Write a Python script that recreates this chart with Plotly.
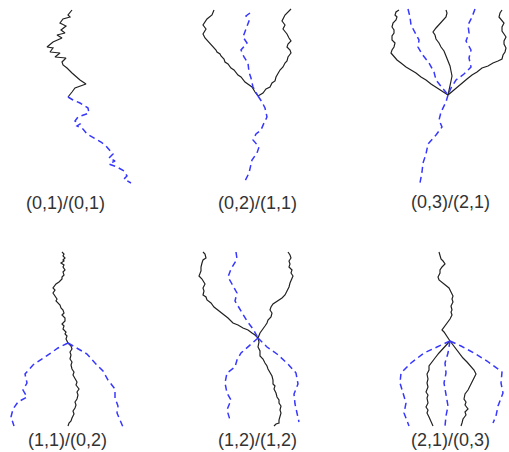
import plotly.graph_objects as go

# ---------------- data: walk paths per panel, (x, y) pairs, vertex at (0, 0) -------------
labels = ["(0,1)/(0,1)", "(0,2)/(1,1)", "(0,3)/(2,1)",
          "(1,1)/(0,2)", "(1,2)/(1,2)", "(2,1)/(0,3)"]

p1_solid = [
    [(4,87),(0,82),(2,80),(-5,78),(-8,74),(-2,71),(-7,67),(-3,64),(-11,62),(-6,59),(-15,55),
     (-21,50),(-15,49),(-18,45),(-8,44),(-13,40),(-2,39),(-6,35),(-5,32),(-1,29),(4,24),(12,17),
     (18,13),(7,9),(4,5),(0,0)],
]
p1_dash = [
    [(0,0),(5,-3),(12,-6),(20,-11),(21,-16),(10,-20),(7,-24),(12,-27),(9,-29),(15,-32),(19,-37),
     (26,-41),(33,-45),(38,-49),(45,-57),(41,-61),(47,-64),(41,-67),(49,-70),(56,-74),(59,-79),
     (56,-82),(63,-86)],
]

p2_solid = [
    [(-44,86),(-46,81),(-51,77),(-55,71),(-52,67),(-55,62),(-53,58),(-51,56),(-47,52),(-45,49),
     (-42,46),(-41,44),(-38,42),(-37,40),(-34,37),(-33,34),(-30,32),(-27,28),(-24,26),(-20,21),
     (-17,19),(-13,14),(-10,12),(-6,9),(-3,4),(0,0)],
    [(33,87),(27,81),(24,75),(27,71),(25,67),(29,62),(31,58),(33,55),(30,52),(29,49),(32,46),
     (33,43),(30,39),(29,35),(27,33),(25,29),(22,26),(20,22),(18,19),(17,15),(14,13),(12,9),
     (8,7),(5,3),(0,0)],
]
p2_dash = [
    [(-8,83),(-12,80),(-9,75),(-11,70),(-13,64),(-15,59),(-11,53),(-17,46),(-14,39),(-10,33),
     (-9,24),(-7,18),(-5,9),(0,0)],
    [(0,0),(4,-6),(7,-12),(9,-21),(6,-27),(3,-34),(-2,-38),(-5,-44),(1,-51),(-1,-57),(-6,-64),
     (-8,-72),(-9,-77),(-14,-87)],
]

p3_solid = [
    [(-49,85),(-52,83),(-53,80),(-51,78),(-52,75),(-55,72),(-56,68),(-54,65),(-54,62),(-56,59),
     (-56,55),(-53,52),(-54,48),(-56,45),(-57,42),(-54,38),(-51,35),(-47,32),(-42,28),(-37,25),
     (-32,22),(-27,18),(-22,15),(-17,11),(-12,8),(-6,4),(0,0)],
    [(-2,85),(-1,82),(-2,78),(-5,75),(-8,71),(-12,67),(-15,63),(-13,60),(-12,56),(-9,52),(-7,48),
     (-4,44),(-2,39),(0,34),(2,29),(3,24),(4,19),(3,14),(2,9),(1,5),(0,0)],
    [(54,85),(52,82),(51,78),(54,75),(56,72),(54,68),(54,64),(56,61),(58,58),(56,54),(56,51),
     (58,47),(57,43),(55,40),(54,36),(50,34),(45,32),(40,29),(34,27),(29,23),(24,20),(19,16),
     (14,12),(10,8),(6,5),(3,3),(0,0)],
]
p3_dash = [
    [(-40,86),(-38,78),(-37,70),(-33,62),(-29,55),(-30,48),(-26,41),(-19,32),(-14,23),(-12,15),
     (-6,8),(0,0)],
    [(27,86),(24,78),(20,70),(21,62),(18,54),(23,45),(21,37),(23,28),(16,21),(8,15),(3,7),(0,0)],
    [(0,0),(-2,-7),(-7,-17),(-9,-25),(-6,-32),(-12,-40),(-20,-49),(-22,-59),(-25,-68),(-26,-77),
     (-28,-88)],
]

p4_solid = [
    [(-6,91),(-4,89),(-5,87),(-3,85),(-5,83),(-4,82),(-7,80),(-4,78),(-5,76),(-3,73),(-5,71),
     (-4,68),(-6,66),(-6,64),(-9,61),(-12,59),(-15,55),(-13,53),(-15,50),(-13,47),(-11,44),
     (-12,42),(-8,38),(-7,35),(-5,33),(-4,30),(-6,28),(-3,25),(-3,22),(-6,19),(-4,17),(-5,14),
     (-2,11),(-3,9),(-1,7),(-2,4),(0,0)],
    [(0,0),(3,-3),(4,-6),(2,-9),(3,-12),(2,-16),(4,-19),(3,-22),(4,-26),(6,-29),(5,-32),(7,-36),
     (9,-39),(8,-42),(11,-46),(9,-49),(10,-52),(9,-56),(7,-59),(8,-62),(7,-65),(5,-68),(6,-71),
     (4,-75),(3,-78),(1,-80),(0,-83)],
]
p4_dash = [
    [(0,0),(-10,-5),(-23,-14),(-35,-22),(-43,-31),(-41,-40),(-45,-47),(-41,-54),(-50,-59),
     (-55,-66),(-57,-74),(-54,-83)],
    [(0,0),(9,-5),(19,-11),(27,-20),(35,-28),(40,-37),(47,-46),(47,-55),(50,-63),(49,-70),
     (52,-78),(55,-84)],
]

p5_solid = [
    [(-55,86),(-53,84),(-52,80),(-55,78),(-56,75),(-57,71),(-57,67),(-59,62),(-56,59),(-55,57),
     (-53,54),(-55,50),(-54,47),(-55,43),(-52,41),(-51,38),(-47,35),(-44,31),(-40,28),(-35,24),
     (-30,20),(-25,15),(-20,13),(-15,10),(-10,8),(-6,5),(-3,3),(0,0)],
    [(30,86),(32,83),(33,80),(31,77),(32,74),(31,71),(34,68),(33,65),(35,62),(33,58),(32,55),
     (31,51),(29,47),(27,43),(24,40),(20,37),(15,34),(13,31),(12,28),(14,25),(13,21),(10,18),
     (9,15),(7,12),(4,8),(2,5),(0,0)],
    [(0,0),(1,-4),(0,-9),(2,-13),(2,-18),(5,-21),(7,-25),(9,-28),(10,-31),(12,-35),(14,-38),
     (15,-42),(15,-46),(17,-48),(16,-51),(18,-55),(19,-59),(21,-62),(21,-65),(23,-68),(22,-72),
     (23,-75),(22,-78),(21,-82),(21,-85),(18,-86),(16,-88)],
]
p5_dash = [
    [(-22,86),(-21,79),(-27,69),(-30,61),(-26,54),(-21,45),(-23,37),(-16,25),(-11,17),(-5,9),(0,0)],
    [(0,0),(-8,-7),(-17,-15),(-21,-22),(-23,-29),(-31,-35),(-33,-45),(-31,-55),(-27,-62),
     (-31,-72),(-28,-82)],
    [(0,0),(9,-9),(19,-16),(30,-26),(38,-35),(40,-46),(36,-56),(37,-66),(39,-75),(41,-84)],
]

p6_solid = [
    [(-11,89),(-10,86),(-9,82),(-7,80),(-5,77),(-8,74),(-10,71),(-10,68),(-12,64),(-11,61),
     (-7,58),(-4,56),(-1,53),(1,49),(3,45),(2,42),(3,39),(1,35),(2,31),(1,29),(2,26),(0,22),
     (-3,18),(-5,15),(-8,11),(-6,9),(-4,6),(-2,3),(0,0)],
    [(0,0),(-4,-4),(-7,-8),(-11,-12),(-15,-17),(-18,-21),(-21,-25),(-21,-29),(-23,-33),(-22,-38),
     (-23,-42),(-22,-46),(-24,-51),(-22,-54),(-23,-57),(-22,-62),(-24,-66),(-22,-69),(-23,-72),
     (-21,-76),(-19,-80),(-18,-83),(-17,-85)],
    [(0,0),(3,-4),(6,-8),(10,-13),(13,-17),(17,-21),(21,-25),(24,-29),(26,-33),(24,-37),(22,-42),
     (20,-45),(18,-49),(15,-53),(14,-58),(16,-61),(15,-64),(18,-68),(15,-71),(16,-74),(13,-78),
     (12,-82),(11,-85)],
]
p6_dash = [
    [(0,0),(-11,-5),(-26,-12),(-39,-22),(-49,-32),(-50,-42),(-47,-52),(-44,-62),(-46,-72),(-41,-85)],
    [(0,0),(-2,-12),(-5,-22),(-4,-32),(-6,-42),(-4,-52),(-2,-65),(-4,-75),(-5,-85)],
    [(0,0),(11,-5),(24,-12),(37,-20),(52,-31),(51,-42),(53,-52),(48,-65),(46,-75),(43,-82)],
]

solid_paths = [p1_solid, p2_solid, p3_solid, p4_solid, p5_solid, p6_solid]
dash_paths = [p1_dash, p2_dash, p3_dash, p4_dash, p5_dash, p6_dash]

# ---------------- layout / style ----------------
W, H = 509, 452
vertex_px = [(68, 97), (258, 96), (448, 95), (68, 343), (258, 338), (450, 341)]
label_px = [(65, 203), (257, 203), (450, 202), (67, 440), (257, 440), (450, 440)]
SOLID_COLOR = "#222222"
DASH_COLOR = "rgb(55,55,255)"

fig = go.Figure()
layout_axes = {}
annotations = []
for i in range(6):
    col, row = i % 3, i // 3
    L, R = col * W / 3, (col + 1) * W / 3
    T, B = row * H / 2, (row + 1) * H / 2
    cx, cy = vertex_px[i]
    sfx = "" if i == 0 else str(i + 1)
    xa, ya = "x" + sfx, "y" + sfx
    layout_axes["xaxis" + sfx] = dict(domain=[L / W, R / W], range=[L - cx, R - cx],
                                      visible=False, fixedrange=True, anchor=ya)
    layout_axes["yaxis" + sfx] = dict(domain=[1 - B / H, 1 - T / H], range=[cy - B, cy - T],
                                      visible=False, fixedrange=True, anchor=xa)
    for path in solid_paths[i]:
        fig.add_trace(go.Scatter(x=[p[0] for p in path], y=[p[1] for p in path], mode="lines",
                                 line=dict(color=SOLID_COLOR, width=1.2),
                                 xaxis=xa, yaxis=ya, hoverinfo="skip", showlegend=False))
    for path in dash_paths[i]:
        fig.add_trace(go.Scatter(x=[p[0] for p in path], y=[p[1] for p in path], mode="lines",
                                 line=dict(color=DASH_COLOR, width=1.5, dash="6px,4px"),
                                 xaxis=xa, yaxis=ya, hoverinfo="skip", showlegend=False))
    lx, ly = label_px[i]
    annotations.append(dict(text=labels[i], x=lx / W, y=1 - ly / H, xref="paper", yref="paper",
                            showarrow=False, xanchor="center", yanchor="middle",
                            font=dict(family="Liberation Sans, Arial", size=18, color="#333333")))

fig.update_layout(width=W, height=H, margin=dict(l=0, r=0, t=0, b=0),
                  paper_bgcolor="white", plot_bgcolor="white",
                  annotations=annotations, **layout_axes)
fig.write_html("out.html", config={"displayModeBar": False},
               post_script="document.body.style.margin='0';document.body.style.overflow='hidden';")
